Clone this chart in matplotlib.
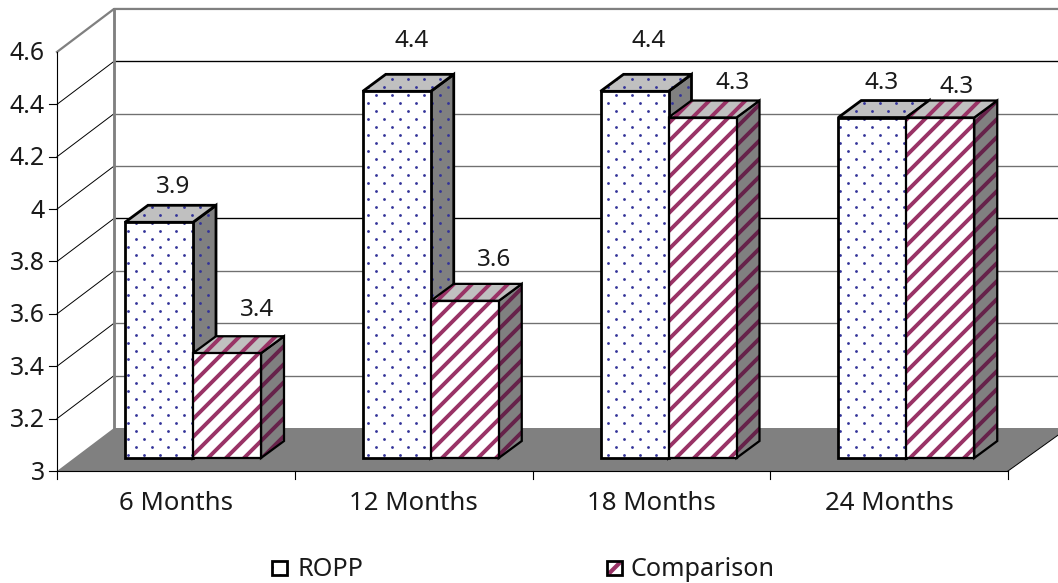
import numpy as np
import matplotlib
matplotlib.use("Agg")
import matplotlib.pyplot as plt
from matplotlib.patches import Polygon
from matplotlib.transforms import IdentityTransform

categories = ["6 Months", "12 Months", "18 Months", "24 Months"]
series_names = ["ROPP", "Comparison"]
ropp = [3.9, 4.4, 4.4, 4.3]
comparison = [3.4, 3.6, 4.3, 4.3]
y_ticks = [3, 3.2, 3.4, 3.6, 3.8, 4, 4.2, 4.4, 4.6]
y_tick_labels = ["3", "3.2", "3.4", "3.6", "3.8", "4", "4.2", "4.4", "4.6"]

W, H = 1058, 583
DPI = 108  # hatch spacing follows the dpi
plt.rcParams["font.family"] = "Noto Sans"
plt.rcParams["hatch.linewidth"] = 2.6

PLUM = "#993366"
NAVY = "#333399"
TEXT = "#1a1a1a"

# pixel calibration of the front plane
x0_px, cat_px = 57, 237.75
y3_px, unit_px = 471, 261.9

fig = plt.figure(figsize=(W / DPI, H / DPI), dpi=DPI)
ax = fig.add_axes([0, 0, 1, 1])
ax.set_xlim(-x0_px / cat_px, (W - x0_px) / cat_px)
ax.set_ylim(3 - (H - y3_px) / unit_px, 3 + y3_px / unit_px)
ax.axis("off")

# pixel offsets turned into data units
def dx(px):
    return px / cat_px

def dy(px):
    return px / unit_px

wall_x, wall_y = dx(57), dy(43)
n = len(categories)

# floor
ax.add_patch(Polygon([(0, 3), (wall_x, 3 + wall_y), (n + dx(60), 3 + wall_y), (n, 3)],
                     fc="#808080", ec="none", zorder=1))

# walls and grid (3.2 up to 4.4)
grid_colors = ["#707070", "#707070", "#707070", "#000000", "#707070", "#707070", "#000000"]
for v, c in zip(y_ticks[1:-1], grid_colors):
    ax.plot([0, wall_x], [v, v + wall_y], color="black", lw=0.65, zorder=1)
    ax.plot([wall_x, n + dx(60)], [v + wall_y, v + wall_y], color=c, lw=0.9, zorder=1)
ax.plot([0, wall_x, n + dx(60)], [4.6, 4.6 + wall_y, 4.6 + wall_y], color="#808080", lw=1.5, zorder=1)
ax.plot([wall_x, wall_x], [3 + wall_y, 4.6 + wall_y], color="#808080", lw=1.9, zorder=1)

# front axes
ax.plot([0, 0], [3, 4.6], color="black", lw=0.75, zorder=2)
ax.plot([0, n], [3, 3], color="black", lw=0.75, zorder=2)
ax.plot([n, n + dx(60)], [3, 3 + wall_y], color="black", lw=0.65, zorder=2)
for v, lab in zip(y_ticks, y_tick_labels):
    if v < 4.6:
        ax.plot([-dx(8), 0], [v, v], color="black", lw=0.75, zorder=2)
    ax.annotate(lab, (0, v), xytext=(-12, -2), textcoords="offset pixels",
                ha="right", va="center", fontsize=16.6, color=TEXT)
for i in range(n + 1):
    ax.plot([i, i], [3, 3 - dy(8)], color="black", lw=0.75, zorder=2)
for i, lab in enumerate(categories):
    ax.annotate(lab, (i + 0.5, 3), xytext=(0, -33), textcoords="offset pixels",
                ha="center", va="center", fontsize=17.2, color=TEXT)

# bars
bar_in, bar_w = dx(17 + 51), dx(68)
depth_x, depth_y = dx(23), dy(17)
base_y = dy(13)

def add_dots(poly):
    xs, ys = np.meshgrid(np.arange(0, W, 16), np.arange(0, H, 8))
    xs = xs + 8 * (np.arange(ys.shape[0]) % 2)[:, None]
    pts = ax.scatter(xs.ravel(), ys.ravel(), s=3.5, marker="o", color=NAVY, linewidths=0,
                     transform=IdentityTransform(), zorder=poly.get_zorder() + 0.01)
    pts.set_clip_path(poly)

def add_face(pts, fc, z, dotted, hatch_color=PLUM):
    if dotted:
        face = Polygon(pts, fc=fc, ec="none", zorder=z)
        ax.add_patch(face)
        add_dots(face)
    else:
        ax.add_patch(Polygon(pts, fc=fc, ec=hatch_color, hatch="//", lw=0, zorder=z))
    ax.add_patch(Polygon(pts, fc="none", ec="black", lw=1.85 if dotted else 1.5,
                         joinstyle="miter", zorder=z + 0.05))

def draw_bar(x, v, z, dotted):
    y0 = 3 + base_y
    y1 = v + base_y
    side_hatch = "#66224a"
    add_face([(x + bar_w, y0), (x + bar_w + depth_x, y0 + depth_y),
              (x + bar_w + depth_x, y1 + depth_y), (x + bar_w, y1)], "#808080", z, dotted, side_hatch)
    add_face([(x, y1), (x + depth_x, y1 + depth_y),
              (x + bar_w + depth_x, y1 + depth_y), (x + bar_w, y1)], "#C0C0C0", z + 0.1, dotted)
    add_face([(x, y0), (x + bar_w, y0), (x + bar_w, y1), (x, y1)], "white", z + 0.2, dotted)

for i in range(n):
    draw_bar(i + bar_in, ropp[i], 3 + i, True)
    draw_bar(i + bar_in + bar_w, comparison[i], 3.5 + i, False)

# value labels, nudged by hand in pixels like the original
ropp_nudge = [(3, 18), (3, 33), (3, 33), (-2, 18)]
comp_nudge = [(19, 26), (18, 24), (19, 18), (5, 14)]
for i in range(n):
    for j, (vals, nudge) in enumerate(((ropp, ropp_nudge), (comparison, comp_nudge))):
        xc = i + bar_in + bar_w * (j + 0.5) + depth_x / 2
        yc = vals[i] + base_y + depth_y
        ax.annotate(f"{vals[i]:g}", (xc, yc), xytext=nudge[i], textcoords="offset pixels",
                    ha="center", va="center", fontsize=16.2, color=TEXT, zorder=20)

# legend
legend_x = [272, 607]
text_x = [297, 630]
for x_px, t_px, name, dotted in zip(legend_x, text_x, series_names, (True, False)):
    sx = dx(x_px - x0_px)
    sy = 3 - dy(568 - y3_px)
    w, h = dx(15), dy(15)
    box = [(sx, sy - h / 2), (sx + w, sy - h / 2), (sx + w, sy + h / 2), (sx, sy + h / 2)]
    if dotted:
        add_face(box, "white", 10, True)
    else:
        # hatch phase misses a box this small, so the band goes in by hand
        ax.plot([sx + w * 0.12, sx + w * 0.88], [sy - h * 0.38, sy + h * 0.38], color=PLUM, lw=2.8,
                solid_capstyle="butt", zorder=10)
        ax.add_patch(Polygon(box, fc="none", ec="black", lw=1.85, joinstyle="miter", zorder=10.1))
    ax.text(dx(t_px - x0_px), sy - dy(2), name, ha="left", va="center", fontsize=16.8, color=TEXT)

fig.savefig("out.png", dpi=DPI)
